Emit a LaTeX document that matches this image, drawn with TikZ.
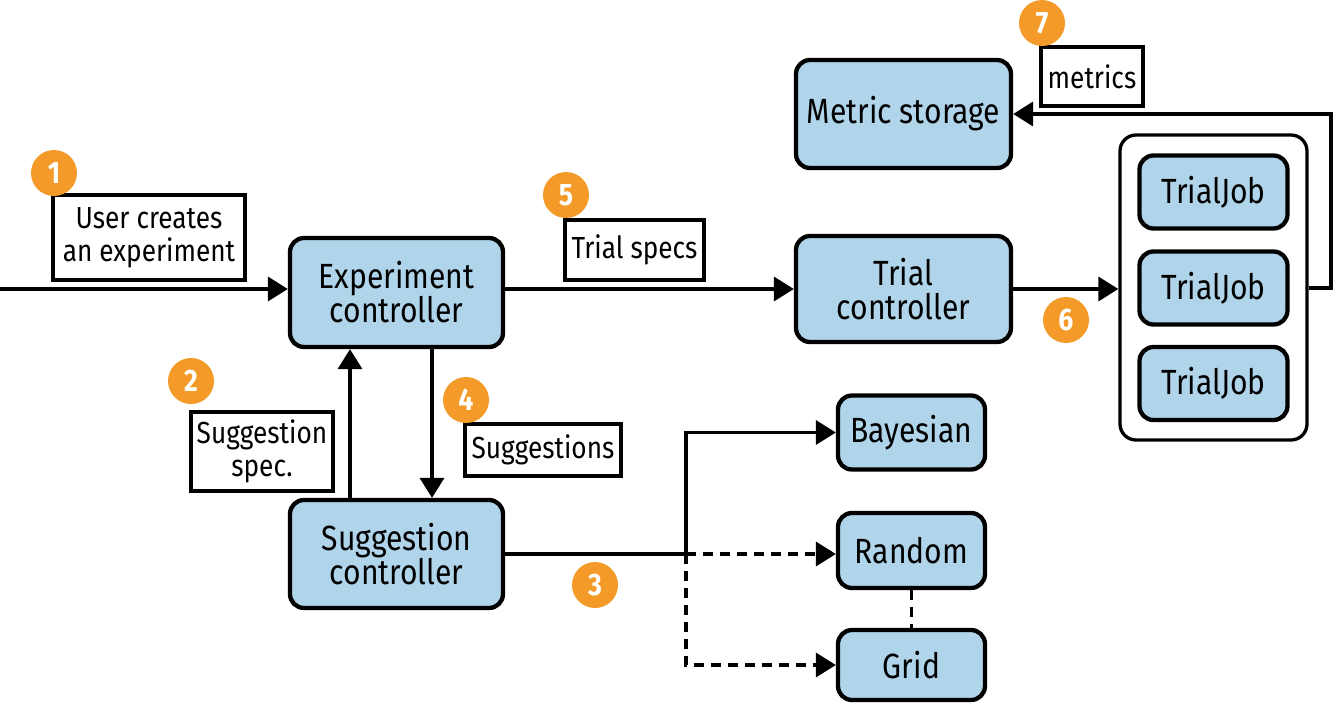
\documentclass[tikz,border=0pt]{standalone}
\usepackage{fontspec}
\setmainfont{Fira Sans}[FakeStretch=0.86]
\usetikzlibrary{arrows.meta}
\definecolor{boxblue}{RGB}{176,212,234}
\definecolor{numorange}{RGB}{244,154,40}
\tikzset{
  comp/.style={draw=black, line width=4.3pt, rounded corners=14pt, fill=boxblue, align=center, inner sep=0pt, font=\fontsize{35}{34}\selectfont},
  lbl/.style={draw=black, line width=3.3pt, fill=white, align=center, inner sep=0pt, font=\fontsize{30.5}{33}\selectfont},
  num/.style={circle, fill=numorange, text=white, inner sep=0pt, minimum size=46pt, font=\fontsize{31}{31}\selectfont\bfseries},
  tip/.style={-{Triangle[length=20pt,width=24pt]}},
  arr/.style={line width=3.6pt, tip},
  plain/.style={line width=3.6pt},
  dsh/.style={line width=3.6pt, dash pattern=on 10pt off 7pt}
}
\begin{document}
\begin{tikzpicture}[x=1pt,y=-1pt]
\useasboundingbox (0,0) rectangle (1334,707);
% components
\node[comp, minimum width=213pt, minimum height=109pt] (exp) at (396.5,292.5) {Experiment\\controller};
\node[comp, minimum width=213pt, minimum height=108pt] (sug) at (396.5,554) {Suggestion\\controller};
\node[comp, minimum width=215pt, minimum height=106pt] (tc) at (903.5,289) {Trial\\controller};
\node[comp, minimum width=215pt, minimum height=108pt] (ms) at (903.5,114) {Metric storage};
\node[draw=black, line width=3.3pt, rounded corners=16pt, fill=white, minimum width=187pt, minimum height=305pt, inner sep=0pt] (cont) at (1213.5,287.5) {};
\node[comp, minimum width=148pt, minimum height=73pt] (tj1) at (1213.5,192) {TrialJob};
\node[comp, minimum width=148pt, minimum height=73pt] (tj2) at (1213.5,288) {TrialJob};
\node[comp, minimum width=148pt, minimum height=73pt] (tj3) at (1213.5,383.5) {TrialJob};
\node[comp, minimum width=147pt, minimum height=74pt] (bay) at (911.5,432.5) {Bayesian};
\node[comp, minimum width=147pt, minimum height=75pt] (rnd) at (911.5,550.5) {Random};
\node[comp, minimum width=147pt, minimum height=70pt] (grid) at (911.5,665) {Grid};
% connectors
\coordinate (in) at (0,289);
\coordinate (split) at (686,554);
\coordinate (mx) at (1331,0);
\draw[arr] (in) -- (in -| exp.west);
\draw[arr] (exp.east |- tc) -- (tc.west);
\draw[arr] (tc.east) -- (tc.east -| cont.west);
\draw[arr] (cont.east |- tj2) -| (mx |- ms.east) -- (ms.east);
\draw[arr] (350,0 |- sug.north) -- (350,0 |- exp.south);
\draw[arr] (432,0 |- exp.south) -- (432,0 |- sug.north);
\draw[plain] (sug.east |- split) -- (split);
\draw[arr] (split) |- (bay.west);
\draw[dsh, tip] (split) -- (split -| rnd.west);
\draw[dsh, tip] (split) |- (grid.west);
\draw[dsh] (rnd.south) -- (grid.north);
% labels
\node[lbl, minimum width=192pt, minimum height=85pt] (l1) at (149,237.5) {User creates\\an experiment};
\node[lbl, minimum width=142pt, minimum height=79pt] (l2) at (262,451.5) {Suggestion\\spec.};
\node[lbl, minimum width=156pt, minimum height=52pt] (l4) at (543,450) {Suggestions};
\node[lbl, minimum width=139pt, minimum height=60pt] (l5) at (634.5,250) {Trial specs};
\node[lbl, minimum width=102pt, minimum height=59pt] (l7) at (1092,76.5) {metrics};
% numbers
\node[num] (n1) at (54,173) {1};
\node[num] (n2) at (191,381) {2};
\node[num] (n3) at (595,585) {3};
\node[num] (n4) at (466,400) {4};
\node[num] (n5) at (566,195) {5};
\node[num] (n6) at (1066,320) {6};
\node[num] (n7) at (1042,23) {7};
\end{tikzpicture}
\end{document}
